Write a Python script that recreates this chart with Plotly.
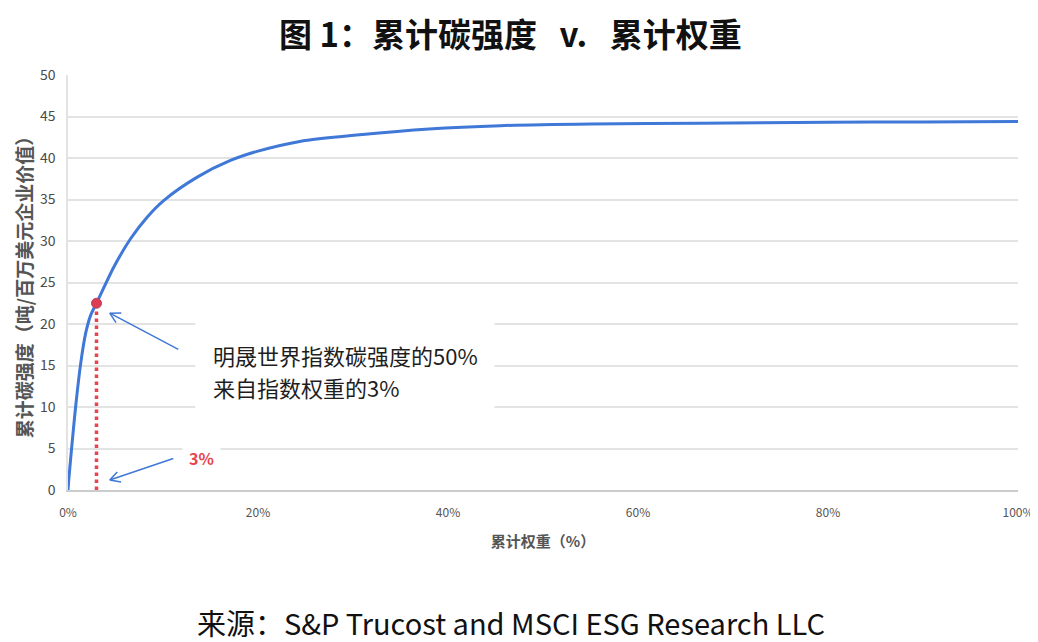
import math
import plotly.graph_objects as go

# Data
cum_weight = [0, 0.1, 0.46, 0.8, 1.33, 1.86, 2.4, 3.0, 4.84, 6.6, 8.35, 10.1, 13.6, 17.1,
              19.9, 24.4, 30.7, 38.0, 45.5, 55.0, 66.5, 80.0, 90.0, 100.0]
cum_intensity = [0, 1.5, 6.0, 10.0, 15.2, 18.9, 21.1, 22.5, 26.9, 30.3, 32.9, 34.9, 37.7, 39.7,
                 40.8, 42.0, 42.8, 43.5, 43.9, 44.1, 44.2, 44.3, 44.35, 44.4]
highlight_x = 3.0
highlight_y = 22.5

y_ticks = [0, 5, 10, 15, 20, 25, 30, 35, 40, 45, 50]
x_ticks = [0, 20, 40, 60, 80, 100]
x_tick_labels = ["0%", "20%", "40%", "60%", "80%", "100%"]

title_text = "图&nbsp;1：累计碳强度&nbsp;&nbsp;&nbsp;v.&nbsp;&nbsp;&nbsp;累计权重"
x_title = "累计权重（%）"
y_title = "累计碳强度（吨/百万美元企业价值）"
note_lines = ["明晟世界指数碳强度的50%", "来自指数权重的3%"]
pct_label = "3%"
source_text = "来源：S&P Trucost and MSCI ESG Research LLC"

FONT = "Noto Sans CJK SC"
BLUE = "#3f78d6"
RED = "#e8434f"

fig = go.Figure()
fig.add_trace(go.Scatter(
    x=cum_weight, y=cum_intensity, mode="lines",
    line=dict(color=BLUE, width=3, shape="spline", smoothing=0.8),
    hoverinfo="skip", showlegend=False))
fig.add_trace(go.Scatter(
    x=[highlight_x, highlight_x], y=[0, highlight_y], mode="lines",
    line=dict(color=RED, width=3.5, dash="dot"),
    showlegend=False, cliponaxis=False))
fig.add_trace(go.Scatter(
    x=[highlight_x], y=[highlight_y], mode="markers",
    marker=dict(color="#dc3d55", size=10, line=dict(color="#b8405a", width=1)),
    showlegend=False))

annotations = []

def arrow(head_x, head_y, tail_dx, tail_dy):
    L = math.hypot(tail_dx, tail_dy)
    ux, uy = tail_dx / L, tail_dy / L
    res = [dict(x=head_x, y=head_y, xref="x", yref="y", ax=tail_dx, ay=tail_dy,
                text="", showarrow=True, arrowhead=0, arrowwidth=1.5, arrowcolor=BLUE)]
    for ang in (0.5, -0.5):
        wx = ux * math.cos(ang) - uy * math.sin(ang)
        wy = ux * math.sin(ang) + uy * math.cos(ang)
        res.append(dict(x=head_x, y=head_y, xref="x", yref="y", ax=wx * 13, ay=wy * 13,
                        text="", showarrow=True, arrowhead=0, arrowwidth=1.5, arrowcolor=BLUE))
    return res

annotations += arrow(4.4, 21.3, 70, 37)
annotations += arrow(4.4, 1.2, 65, -22)

# callout text (white box behind it is a shape)
for line_text, yv in zip(note_lines, [16.3, 12.4]):
    annotations.append(dict(
        x=15.0, y=yv, xref="x", yref="y", xanchor="left", yanchor="middle",
        text=line_text, showarrow=False, align="left",
        font=dict(family=FONT, size=22, color="#1e1e1e")))
annotations.append(dict(
    x=14.0, y=3.9, xref="x", yref="y", xanchor="center", yanchor="middle",
    text="<b>" + pct_label + "</b>", showarrow=False,
    font=dict(family=FONT, size=16, color=RED),
    bgcolor="white", borderpad=6))
annotations.append(dict(
    x=0.466, y=1.0, xref="paper", yref="paper", yanchor="middle", xanchor="center",
    text="<b>" + title_text + "</b>", showarrow=False, yshift=42,
    font=dict(family=FONT, size=33, color="#111111")))
annotations.append(dict(
    x=0.466, y=0, xref="paper", yref="paper", xanchor="center", yanchor="middle",
    text=source_text, showarrow=False, yshift=-132, height=36,
    font=dict(family=FONT, size=29, color="#111111")))

fig.update_layout(
    width=1030, height=634,
    margin=dict(l=60, r=20, t=67, b=152),
    paper_bgcolor="white", plot_bgcolor="white",
    font=dict(family=FONT, color="#555555"),
    annotations=annotations,
    shapes=[dict(type="rect", xref="x", yref="y", x0=13.4, x1=44.9, y0=8.6, y1=20.7,
                 fillcolor="white", line=dict(width=0), layer="above")],
    showlegend=False,
)
fig.update_xaxes(
    range=[0, 100], tickvals=x_ticks, ticktext=x_tick_labels,
    showgrid=False, zeroline=False, automargin=False,
    showline=True, linecolor="#cccccc", linewidth=1.5,
    tickfont=dict(family=FONT, size=12, color="#555555"), ticks="", ticklabelstandoff=11,
    title=dict(text="<b>" + x_title + "</b>", font=dict(family=FONT, size=15, color="#555555"), standoff=17))
fig.update_yaxes(
    range=[0, 50], tickvals=y_ticks,
    showgrid=True, gridcolor="#e3e3e3", gridwidth=1.5, zeroline=False, automargin=False,
    showline=True, linecolor="#e3e3e3", linewidth=1.5,
    tickfont=dict(family=FONT, size=14, color="#4a4a4a"), ticks="", ticklabelstandoff=8,
    title=dict(text="<b>" + y_title + "</b>", font=dict(family=FONT, size=19, color="#555555"), standoff=2))

fig.write_html("out.html")
